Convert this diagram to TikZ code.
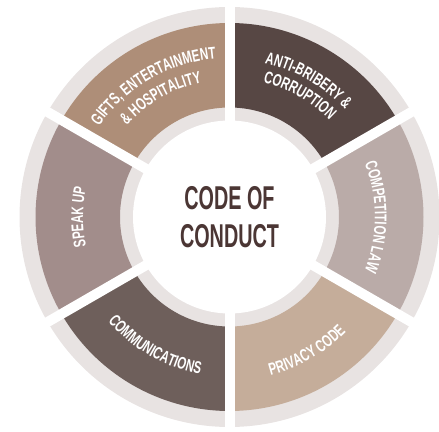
\documentclass[tikz,border=0pt]{standalone}
\usepackage{fontspec}
\usetikzlibrary{decorations.text}
\newfontfamily\labfont{Liberation Sans Bold}[FakeStretch=0.68]
\newfontfamily\titlefont{Liberation Sans Bold}[FakeStretch=0.60]
\definecolor{ringgray}{HTML}{E8E3E2}
\definecolor{giftscol}{HTML}{AE8E78}
\definecolor{anticol}{HTML}{574744}
\definecolor{compcol}{HTML}{BAABA8}
\definecolor{privcol}{HTML}{C5AD9A}
\definecolor{commcol}{HTML}{6E5F5B}
\definecolor{speakcol}{HTML}{A28D8B}
\definecolor{titlecol}{HTML}{4B3634}
\tikzset{
  seglabel/.style={decorate, decoration={text along path, text align=center,
     text={|\labfont\fontsize{17}{18}\selectfont\color{white}|#1}}},
  gapline/.style={draw=white, line width=10pt}
}
\begin{document}
\begin{tikzpicture}[x=1pt,y=1pt]
\useasboundingbox (0,0) rectangle (439,431);
\coordinate (C) at (229.5,214);
% outer gray ring
\fill[ringgray] (C) circle[radius=210];
% coloured sectors
\foreach \a/\b/\col in {90/150/giftscol, 30/90/anticol, -30/30/compcol, -90/-30/privcol, 210/270/commcol, 150/210/speakcol}{
  \fill[\col] ([shift={(\a:194)}]C) arc[start angle=\a, end angle=\b, radius=194]
     -- ([shift={(\b:109.5)}]C) arc[start angle=\b, end angle=\a, radius=109.5] -- cycle;
}
% white gaps
\foreach \g in {90,30,-30,-90,210,150}{
  \coordinate (g\g) at ([shift={(\g:230)}]C);
  \draw[gapline] (C) -- (g\g);
}
% white centre
\fill[white] (C) circle[radius=96.5];
\node[font=\titlefont\fontsize{33}{38}\selectfont, text=titlecol, align=center] (title) at (C) {CODE OF\\CONDUCT};
% labels
\path[seglabel={GIFTS, ENTERTAINMENT}] ([shift={(150:158.9)}]C) arc[start angle=150, end angle=90, radius=158.9];
\path[seglabel={{\&} HOSPITALITY}] ([shift={(150:137.4)}]C) arc[start angle=150, end angle=90, radius=137.4];
\path[seglabel={ANTI-BRIBERY {\&}}] ([shift={(90:157.9)}]C) arc[start angle=90, end angle=30, radius=157.9];
\path[seglabel={CORRUPTION}] ([shift={(90:138.9)}]C) arc[start angle=90, end angle=30, radius=138.9];
\path[seglabel={COMPETITION LAW}] ([shift={(30:145.4)}]C) arc[start angle=30, end angle=-30, radius=145.4];
\path[seglabel={SPEAK UP}] ([shift={(210:146.4)}]C) arc[start angle=210, end angle=150, radius=146.4];
\path[seglabel={COMMUNICATIONS}] ([shift={(210:160.1)}]C) arc[start angle=210, end angle=270, radius=160.1];
\path[seglabel={PRIVACY CODE}] ([shift={(270:163.6)}]C) arc[start angle=270, end angle=330, radius=163.6];
\end{tikzpicture}
\end{document}
